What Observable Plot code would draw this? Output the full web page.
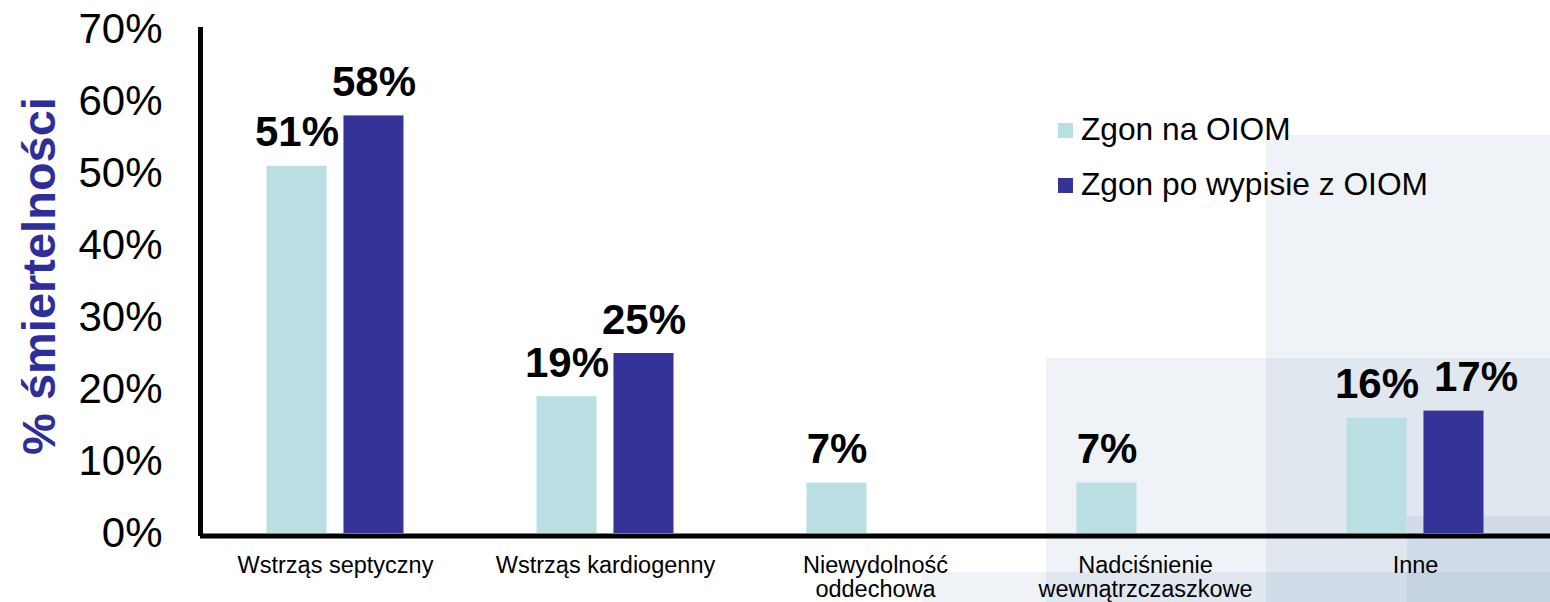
<!DOCTYPE html>
<html>
<head>
<meta charset="utf-8">
<script src="https://cdn.jsdelivr.net/npm/d3@7"></script>
<script src="https://cdn.jsdelivr.net/npm/@observablehq/plot@0.6"></script>
<style>
  html, body { margin: 0; padding: 0; background: #fff; }
  body { font-family: "Liberation Sans", Arial, sans-serif; }
  #wrap { position: relative; width: 1550px; height: 602px; overflow: hidden; }
  .bg { position: absolute; right: 0; bottom: 0; background: rgba(40, 90, 150, 0.075); }
  #chart { position: absolute; left: 0; top: 0; }
  .legend-item { position: absolute; left: 1058px; height: 32px; }
  .legend-item .sw { position: absolute; left: 0; top: 10px; width: 15px; height: 15px; }
  .legend-item .lbl { position: absolute; left: 23px; top: 0; font-size: 31.7px; line-height: 32px; white-space: nowrap; color: #000; }
</style>
</head>
<body>
<div id="wrap">
  <div class="bg" style="left:1266px; top:135px;"></div>
  <div class="bg" style="left:1046px; top:358px;"></div>
  <div class="bg" style="left:922px; top:572px;"></div>
  <div class="bg" style="left:1407px; top:516px;"></div>
  <div id="chart"></div>
  <div id="legend"></div>
</div>
<script>
// ---- data ----
const categories = [
  "Wstrząs septyczny",
  "Wstrząs kardiogenny",
  "Niewydolność\noddechowa",
  "Nadciśnienie\nwewnątrzczaszkowe",
  "Inne"
];
const series = ["Zgon na OIOM", "Zgon po wypisie z OIOM"];
const icuDeaths = [51, 19, 7, 7, 16];
const postDischargeDeaths = [58, 25, null, null, 17];
const yTicks = [0, 10, 20, 30, 40, 50, 60, 70];
const colors = ["#b9dfe2", "#353397"];
const yTitle = "% śmiertelności";

// ---- table ----
const rows = [];
categories.forEach((c, i) => {
  if (icuDeaths[i] != null) rows.push({category: c, series: series[0], value: icuDeaths[i]});
  if (postDischargeDeaths[i] != null) rows.push({category: c, series: series[1], value: postDischargeDeaths[i]});
});
// in the original, the last group's second label is nudged right to avoid overlap
const lastCat = categories[categories.length - 1];
const isNudged = d => d.category === lastCat && d.series === series[1];

const labelStyle = {
  fx: "category", x: "series", y: "value",
  text: d => d.value + "%",
  lineAnchor: "bottom", dy: -20,
  fontSize: 42, fontWeight: "bold", fill: "#000"
};

const plot = Plot.plot({
  width: 1550,
  height: 602,
  marginLeft: 200,
  marginRight: 0,
  marginTop: 29,
  marginBottom: 69,
  style: {fontFamily: "'Liberation Sans', Arial, sans-serif", background: "transparent", overflow: "visible"},
  fx: {domain: categories, paddingInner: 0, paddingOuter: 0, label: null, round: false},
  x: {domain: series, paddingInner: 0.22, paddingOuter: 0.864, axis: null, round: false},
  y: {domain: [0, 70], label: null},
  color: {domain: series, range: colors},
  marks: [
    Plot.barY(rows, {fx: "category", x: "series", y: "value", fill: "series"}),
    Plot.text(rows.filter(d => !isNudged(d)), labelStyle),
    Plot.text(rows.filter(isNudged), {...labelStyle, dx: 22}),
    Plot.ruleY([0], {stroke: "#000", strokeWidth: 5, dy: 2.5}),
    Plot.frame({anchor: "left", facetAnchor: "left", stroke: "#000", strokeWidth: 5}),
    Plot.axisY({
      ticks: yTicks, tickFormat: d => d + "%",
      tickSize: 0, tickPadding: 38, fontSize: 42, label: null, fill: "#000"
    }),
    Plot.axisFx({
      anchor: "bottom", tickSize: 0, tickPadding: 22,
      fontSize: 23.5, lineHeight: 1.03, label: null, fill: "#000"
    })
  ]
});

document.getElementById("chart").appendChild(plot);

// y-axis title
d3.select(plot).append("text")
  .attr("transform", "translate(55,276) rotate(-90)")
  .attr("text-anchor", "middle")
  .attr("font-size", 47)
  .attr("font-weight", "bold")
  .attr("fill", "#2e2e9a")
  .text(yTitle);

// legend
const legend = document.getElementById("legend");
const legendTops = [113, 168];
series.forEach((s, i) => {
  const item = document.createElement("div");
  item.className = "legend-item";
  item.style.top = legendTops[i] + "px";
  const sw = document.createElement("div");
  sw.className = "sw";
  sw.style.background = colors[i];
  const lbl = document.createElement("div");
  lbl.className = "lbl";
  lbl.textContent = s;
  item.appendChild(sw);
  item.appendChild(lbl);
  legend.appendChild(item);
});
</script>
</body>
</html>
